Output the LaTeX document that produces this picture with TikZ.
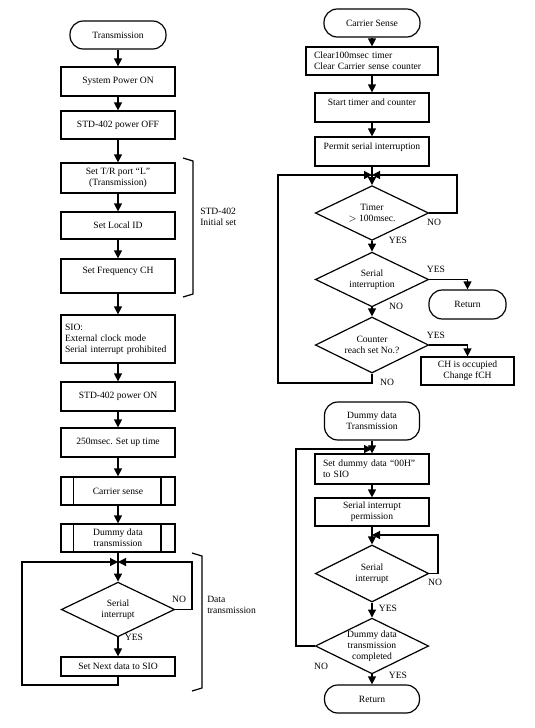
\documentclass[tikz,border=0pt]{standalone}
\usepackage{fontspec}
\setmainfont{Liberation Serif}
\usepackage{tikz}
\usetikzlibrary{shapes.geometric, arrows.meta, positioning}
\tikzstyle{process} = [rectangle, draw=black, line width=0.9pt, minimum width=85.5pt, minimum height=21.75pt, inner sep=1pt, align=center]
\tikzstyle{leftbox} = [process, align=left, inner xsep=3pt, text width=79.5pt]
\tikzstyle{terminal} = [rectangle, rounded corners=10pt, draw=black, line width=0.9pt, minimum width=72pt, minimum height=21pt, align=center]
\tikzstyle{decision} = [diamond, aspect=2, draw=black, line width=0.9pt, minimum width=85pt, minimum height=41pt, inner sep=0pt, align=center]
\tikzstyle{subproc} = [process, path picture={
  \draw [line width=0.9pt] ([xshift=9.5pt]path picture bounding box.north west) -- ([xshift=9.5pt]path picture bounding box.south west);
  \draw [line width=0.9pt] ([xshift=-10.5pt]path picture bounding box.north east) -- ([xshift=-10.5pt]path picture bounding box.south east);}]
\tikzstyle{note} = [inner sep=0pt, align=left]
\tikzstyle{arrow} = [line width=0.9pt, -{Triangle[length=6pt, width=6pt]}]
\tikzstyle{line} = [line width=0.9pt]

\begin{document}
\begin{tikzpicture}[x=0.75pt, y=-0.75pt, font=\fontsize{7.2}{8.3}\selectfont]
\useasboundingbox (0,0) rectangle (535,728);

% Transmission
\node (trans) [terminal] at (118,35) {Transmission};
\node (poweron) [process] at (118,81.5) {System Power ON};
\node (stdoff) [process, minimum height=21pt] at (118,125) {STD-402 power OFF};
\node (trport) [process, minimum height=22.5pt] at (118,178) {Set T/R port “L”\\(Transmission)};
\node (localid) [process, minimum height=20.25pt] at (118,225.5) {Set Local ID};
\node (freq) [process, minimum height=25.5pt] at (118,276) {Set Frequency CH\\ \mbox{}};
\node (sio) [leftbox, minimum height=36pt] at (118,339) {SIO:\\External clock mode\\Serial interrupt prohibited};
\node (stdon) [process] at (118,396.5) {STD-402 power ON};
\node (setup) [process] at (118,442.5) {250msec. Set up time};
\node (carrier) [subproc, minimum height=21pt] at (118,491) {Carrier sense};
\node (dummy) [subproc, minimum height=21pt] at (118,538) {Dummy data\\transmission};
\coordinate (joinA) at (118,562);
\node (serialA) [decision] at (118,609.5) {Serial\\interrupt};
\node (nextdata) [process, minimum height=14.25pt] at (118,666.5) {Set Next data to SIO};
\coordinate (loopAl) at (22,685);
\coordinate (loopAr) at (192,562);
\node (noA) [note] at (179,599) {NO};
\node (yesA) [note] at (134,637) {YES};

% brackets
\draw [line] (183,158) -- (193,161) -- (193,294) -- (183,297);
\node (initset) [note, anchor=west] at (200,217) {STD-402\\Initial set};
\draw [line] (192,553) -- (202,556) -- (202,688) -- (192,691);
\node (datatx) [note, anchor=west] at (207,605) {Data\\transmission};

\draw [arrow] (trans) -- (poweron);
\draw [arrow] (poweron) -- (stdoff);
\draw [arrow] (stdoff) -- (trport);
\draw [arrow] (trport) -- (localid);
\draw [arrow] (localid) -- (freq);
\draw [arrow] (freq) -- (sio);
\draw [arrow] (sio) -- (stdon);
\draw [arrow] (stdon) -- (setup);
\draw [arrow] (setup) -- (carrier);
\draw [arrow] (carrier) -- (dummy);
\draw [arrow] (dummy) -- (serialA);
\draw [arrow] (serialA) -- (nextdata);
\draw [arrow] (nextdata.south) |- (loopAl) |- (joinA);
\draw [arrow] (serialA.east) -| (loopAr) -- (joinA);

% Carrier Sense
\node (cs) [terminal] at (372,23) {Carrier Sense};
\node (clear) [leftbox, minimum width=99pt, text width=87pt, inner xsep=6pt, minimum height=21pt] at (372,61) {Clear100msec timer\\Clear Carrier sense counter};
\node (start) [process] at (372,107.5) {Start timer and counter\\ \mbox{}};
\node (permit) [process] at (372,151.5) {Permit serial interruption\\ \mbox{}};
\coordinate (joinB) at (372,175);
\node (timer) [decision] at (372,213) {Timer\\$>$ 100msec.};
\node (serint) [decision] at (372,279.5) {Serial\\interruption};
\node (counter) [decision, minimum height=42pt] at (372,345) {Counter\\reach set No.?};
\node (retA) [terminal, minimum width=57.75pt, minimum height=21.75pt] at (467.5,304.5) {Return};
\node (occupied) [process, minimum width=69.75pt, minimum height=21pt] at (467.5,371) {CH is occupied\\Change fCH};
\coordinate (loopBl) at (278,383);
\coordinate (loopBr) at (457,175);
\node (noB) [note] at (434,222) {NO};
\node (yesB) [note] at (398,240) {YES};
\node (yesC) [note] at (436,269) {YES};
\node (noC) [note] at (396,306) {NO};
\node (yesD) [note] at (436,335) {YES};
\node (noD) [note] at (387,382) {NO};

\draw [arrow] (cs) -- (clear);
\draw [arrow] (clear) -- (start);
\draw [arrow] (start) -- (permit);
\draw [arrow] (permit) -- (timer);
\draw [arrow] (timer) -- (serint);
\draw [arrow] (serint) -- (counter);
\draw [arrow] (serint.east) -| (retA.north);
\draw [arrow] (counter.east) -| (occupied.north);
\draw [arrow] (counter.south) |- (loopBl) |- (joinB);
\draw [arrow] (timer.east) -| (loopBr) -- (joinB);

% Dummy data Transmission
\node (dterm) [terminal, minimum width=71.25pt, minimum height=28.5pt] at (372,421) {Dummy data\\Transmission};
\coordinate (joinC) at (372,449);
\node (setdummy) [leftbox, text width=73.5pt, inner xsep=6pt, minimum height=22.5pt] at (372,469) {Set dummy data “00H”\\to SIO};
\node (sipermit) [process, minimum height=21pt] at (372,512) {Serial interrupt\\permission};
\coordinate (joinD) at (372,535);
\node (serialB) [decision, minimum height=42.75pt] at (372,573.5) {Serial\\interrupt};
\node (done) [decision, minimum height=41pt] at (372,646) {Dummy data\\transmission\\completed};
\node (retB) [terminal, minimum width=71.25pt] at (372,699) {Return};
\coordinate (loopCl) at (296,646);
\coordinate (loopDr) at (438,535);
\node (noE) [note] at (435,582) {NO};
\node (yesE) [note] at (388,608) {YES};
\node (noF) [note] at (321,666) {NO};
\node (yesF) [note] at (398,675) {YES};

\draw [arrow] (dterm) -- (setdummy);
\draw [arrow] (setdummy) -- (sipermit);
\draw [arrow] (sipermit) -- (serialB);
\draw [arrow] (serialB) -- (done);
\draw [arrow] (done) -- (retB);
\draw [arrow] (done.west) -- (loopCl) |- (joinC);
\draw [arrow] (serialB.east) -| (loopDr) -- (joinD);
\end{tikzpicture}
\end{document}
